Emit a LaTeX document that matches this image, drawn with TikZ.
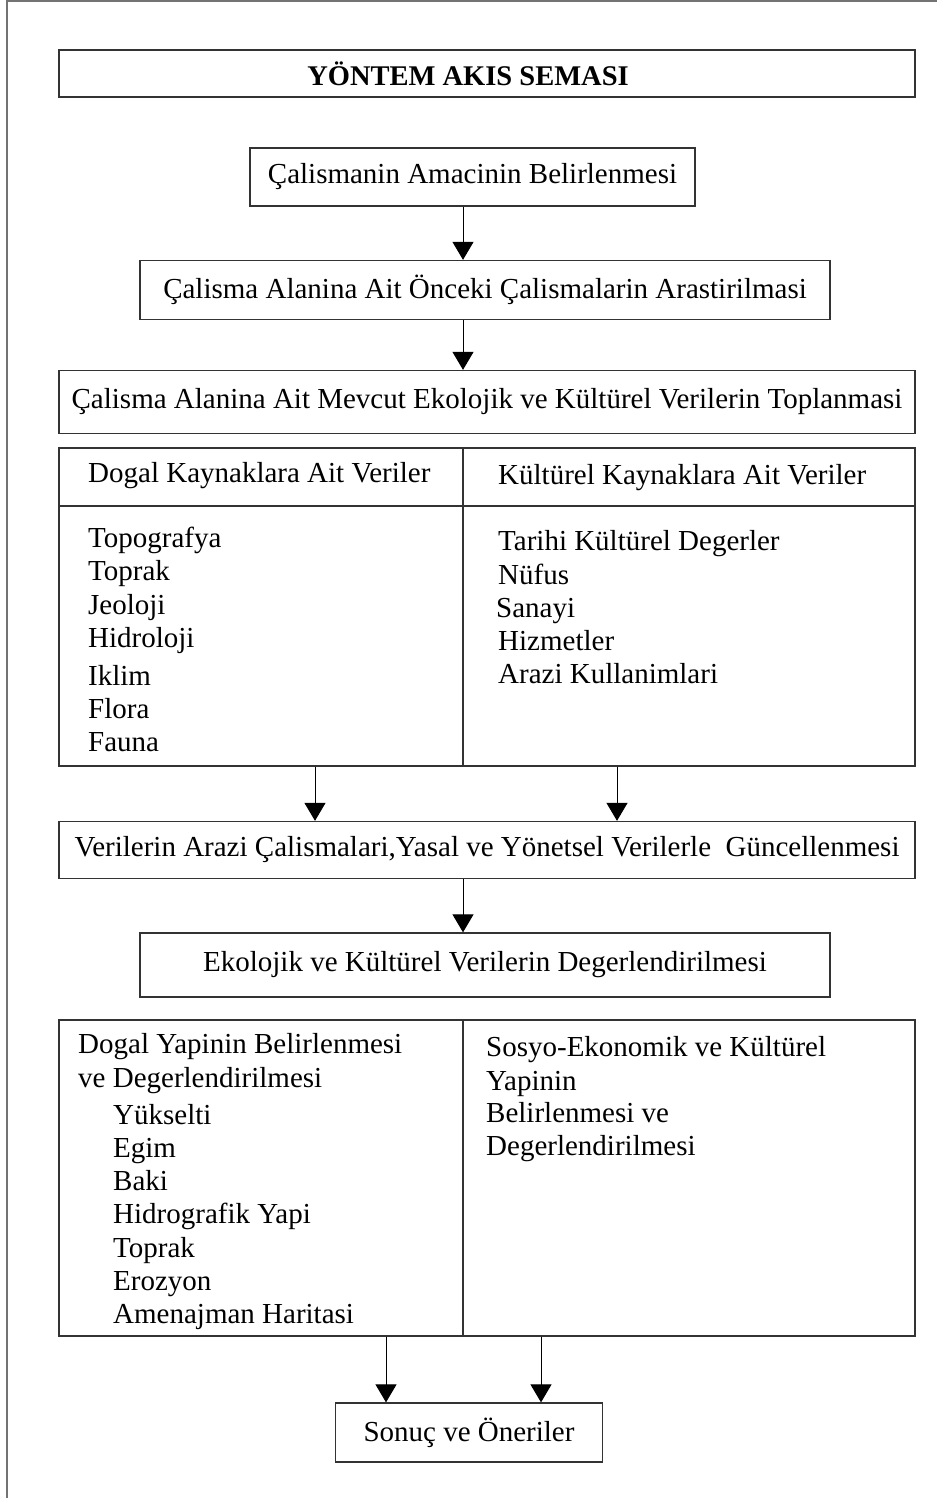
\documentclass[tikz,border=0pt]{standalone}
\usepackage{fontspec}
\setmainfont{Liberation Serif}
\usetikzlibrary{arrows.meta}
\newcommand\fsz{\fontsize{29}{35}\selectfont}
\tikzset{
  box/.style={draw=black!80, line width=1.3pt, rectangle, inner sep=0pt, font=\fsz},
  cell/.style={draw=black!80, line width=1.3pt, rectangle, inner sep=0pt},
  lbl/.style={anchor=base west, inner sep=0pt, font=\fsz},
  arr/.style={-{Triangle[length=18pt,width=21pt]}, line width=1pt, draw=black},
  frame/.style={draw=black!55, line width=1.2pt}
}
\begin{document}
\begin{tikzpicture}[x=1pt,y=-1pt]
\useasboundingbox (0,0) rectangle (937,1498);
\draw[frame] (7,1498) -- (7,1) -- (937,1);
% x positions for connectors
\coordinate (xa) at (463,0);
\coordinate (xb) at (315,0);
\coordinate (xc) at (617,0);
\coordinate (xd) at (386,0);
\coordinate (xe) at (541,0);
% boxes
\node[box, minimum width=856pt, minimum height=47pt] (title) at (487,73.5) {};
\node[inner sep=0pt, font=\fontsize{28.5}{34}\selectfont\bfseries] (titletext) at (468,73.5) {YÖNTEM AKIS SEMASI};
\node[box, minimum width=445pt, minimum height=58pt] (b1) at (472.5,177) {Çalismanin Amacinin Belirlenmesi};
\node[box, minimum width=690pt, minimum height=59pt] (b2) at (485,290) {Çalisma Alanina Ait Önceki Çalismalarin Arastirilmasi};
\node[box, minimum width=856pt, minimum height=63pt] (b3) at (487,402) {Çalisma Alanina Ait Mevcut Ekolojik ve Kültürel Verilerin Toplanmasi};
% table 1
\node[cell, minimum width=404pt, minimum height=58pt] (t1lh) at (261,477) {};
\node[cell, minimum width=452pt, minimum height=58pt] (t1rh) at (689,477) {};
\node[cell, minimum width=404pt, minimum height=260pt] (t1lb) at (261,636) {};
\node[cell, minimum width=452pt, minimum height=260pt] (t1rb) at (689,636) {};
\node[lbl] (h1) at (88,482) {Dogal Kaynaklara Ait Veriler};
\node[lbl] (h2) at (498,484) {Kültürel Kaynaklara Ait Veriler};
\node[lbl] (l1) at (88,547) {Topografya};
\node[lbl] (l2) at (88,580) {Toprak};
\node[lbl] (l3) at (88,614) {Jeoloji};
\node[lbl] (l4) at (88,647) {Hidroloji};
\node[lbl] (l5) at (88,685) {Iklim};
\node[lbl] (l6) at (88,718) {Flora};
\node[lbl] (l7) at (88,751) {Fauna};
\node[lbl] (r1) at (498,550) {Tarihi Kültürel Degerler};
\node[lbl] (r2) at (498,584) {Nüfus};
\node[lbl] (r3) at (496,617) {Sanayi};
\node[lbl] (r4) at (498,650) {Hizmetler};
\node[lbl] (r5) at (498,683) {Arazi Kullanimlari};
% box 4,5
\node[box, minimum width=856pt, minimum height=57pt] (b4) at (487,850) {Verilerin Arazi Çalismalari,Yasal ve Yönetsel Verilerle\ \ Güncellenmesi};
\node[box, minimum width=690pt, minimum height=64pt] (b5) at (485,965) {Ekolojik ve Kültürel Verilerin Degerlendirilmesi};
% table 2
\node[cell, minimum width=404pt, minimum height=316pt] (t2l) at (261,1178) {};
\node[cell, minimum width=452pt, minimum height=316pt] (t2r) at (689,1178) {};
\node[lbl] (m1) at (78,1053) {Dogal Yapinin Belirlenmesi};
\node[lbl] (m2) at (78,1087) {ve Degerlendirilmesi};
\node[lbl] (m3) at (113,1124) {Yükselti};
\node[lbl] (m4) at (113,1157) {Egim};
\node[lbl] (m5) at (113,1190) {Baki};
\node[lbl] (m6) at (113,1223) {Hidrografik Yapi};
\node[lbl] (m7) at (113,1257) {Toprak};
\node[lbl] (m8) at (113,1290) {Erozyon};
\node[lbl] (m9) at (113,1323) {Amenajman Haritasi};
\node[lbl] (n1) at (486,1056) {Sosyo-Ekonomik ve Kültürel};
\node[lbl] (n2) at (486,1090) {Yapinin};
\node[lbl] (n3) at (486,1122) {Belirlenmesi ve};
\node[lbl] (n4) at (486,1155) {Degerlendirilmesi};
% final
\node[box, minimum width=267pt, minimum height=59pt] (b6) at (469,1432.5) {Sonuç ve Öneriler};
% connectors
\draw[arr] (b1.south -| xa) -- (b2.north -| xa);
\draw[arr] (b2.south -| xa) -- (b3.north -| xa);
\draw[arr] (t1lb.south -| xb) -- (b4.north -| xb);
\draw[arr] (t1rb.south -| xc) -- (b4.north -| xc);
\draw[arr] (b4.south -| xa) -- (b5.north -| xa);
\draw[arr] (t2l.south -| xd) -- (b6.north -| xd);
\draw[arr] (t2r.south -| xe) -- (b6.north -| xe);
\end{tikzpicture}
\end{document}
